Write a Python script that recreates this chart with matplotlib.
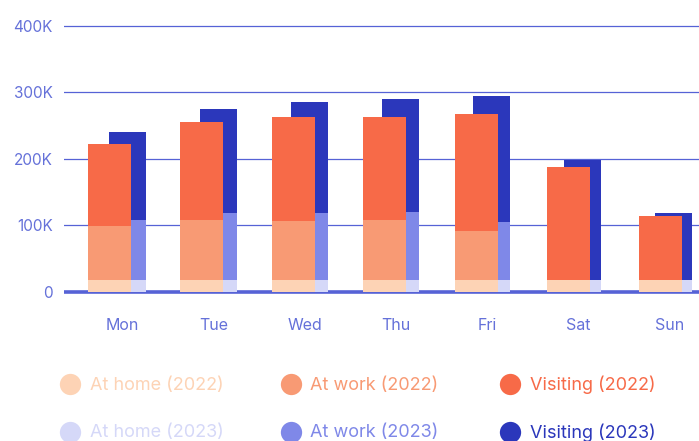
import matplotlib
matplotlib.use("Agg")
import matplotlib.pyplot as plt
import numpy as np

plt.rcParams['font.family'] = ['Inter', 'DejaVu Sans']

days = ["Mon", "Tue", "Wed", "Thu", "Fri", "Sat", "Sun"]

# segment values (stacked), in thousands
home_2022 = [17, 17, 17, 17, 17, 17, 17]
work_2022 = [82, 91, 89.5, 91, 74.5, 0, 0]
visit_2022 = [123.5, 147.5, 156.5, 155, 176, 171, 97]
home_2023 = [17, 17, 17, 17, 17, 17, 17]
work_2023 = [91, 101.5, 101.5, 103, 88, 0, 0]
visit_2023 = [132.5, 157, 167, 170, 190, 181.5, 101.5]

yticks = [0, 100, 200, 300, 400]
ytick_labels = ["0", "100K", "200K", "300K", "400K"]

c_home22, c_work22, c_vis22 = "#FDD3B5", "#F89A74", "#F76A48"
c_home23, c_work23, c_vis23 = "#D5D8F8", "#7F88E8", "#2B37BB"
grid_c = "#5662D6"
tick_c = "#6571D9"

W, H = 699, 441
fig = plt.figure(figsize=(W / 100, H / 100), dpi=100)

# axes placement in pixels
ax_left, ax_right, ax_top, ax_bottom = 64, 699, 20, 300
ax = fig.add_axes([ax_left / W, (H - ax_bottom) / H, (ax_right - ax_left) / W, (ax_bottom - ax_top) / H])

zero_px = 291.7
px_per_k = 0.664
ax.set_ylim(-(ax_bottom - zero_px) / px_per_k, (zero_px - ax_top) / px_per_k)

sp = 91.25
c0 = 122
ax.set_xlim((ax_left - c0) / sp, (ax_right - c0) / sp)

idx = np.arange(len(days))
x22 = -0.137 + 1.00636 * idx
x23 = 0.0603 + 0.99726 * idx
w22 = 43 / sp
w23 = 37 / sp

h22 = np.array(home_2022, float)
wk22 = np.array(work_2022, float)
v22 = np.array(visit_2022, float)
h23 = np.array(home_2023, float)
wk23 = np.array(work_2023, float)
v23 = np.array(visit_2023, float)

# 2023 bars (behind)
ax.bar(x23, h23, w23, color=c_home23, zorder=3, linewidth=0)
ax.bar(x23, wk23, w23, bottom=h23, color=c_work23, zorder=3, linewidth=0)
ax.bar(x23, v23, w23, bottom=h23 + wk23, color=c_vis23, zorder=3, linewidth=0)
# 2022 bars (front)
ax.bar(x22, h22, w22, color=c_home22, zorder=4, linewidth=0)
ax.bar(x22, wk22, w22, bottom=h22, color=c_work22, zorder=4, linewidth=0)
ax.bar(x22, v22, w22, bottom=h22 + wk22, color=c_vis22, zorder=4, linewidth=0)

for y in yticks[1:]:
    ax.axhline(y, color=grid_c, lw=0.9, zorder=1)
ax.axhline(0, color=grid_c, lw=2.6, zorder=2)

for s in ax.spines.values():
    s.set_visible(False)
ax.set_yticks(yticks)
ax.set_yticklabels(ytick_labels)
ax.set_xticks(idx)
ax.set_xticklabels(days)
ax.tick_params(axis='y', length=0, pad=8, labelsize=11, labelcolor=tick_c)
ax.tick_params(axis='x', length=0, pad=13, labelsize=11.5, labelcolor=tick_c)

# legend
lax = fig.add_axes([0, 0, 1, 1])
lax.set_xlim(0, W)
lax.set_ylim(H, 0)
lax.axis('off')
legend_items = [
    ("At home (2022)", c_home22, 70, 384),
    ("At work (2022)", c_work22, 291, 384),
    ("Visiting (2022)", c_vis22, 510, 384),
    ("At home (2023)", c_home23, 70, 431.5),
    ("At work (2023)", c_work23, 291, 431.5),
    ("Visiting (2023)", c_vis23, 510, 431.5),
]
for label, col, cx, cy in legend_items:
    lax.scatter([cx], [cy], s=235, color=col, linewidths=0, clip_on=False)
    lax.text(cx + 19.5, cy + 1, label, color=col, fontsize=13, va='center', ha='left')

fig.savefig("out.png", dpi=100)
